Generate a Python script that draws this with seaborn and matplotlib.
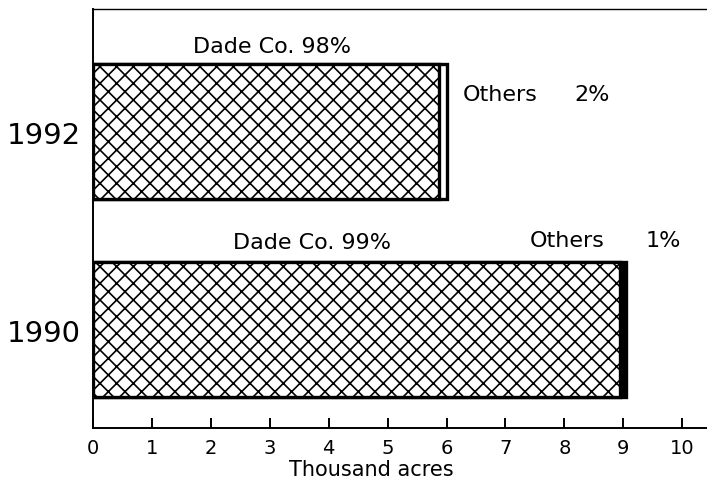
import matplotlib
matplotlib.use("Agg")
import matplotlib.pyplot as plt
import seaborn as sns
import pandas as pd

years = ["1992", "1990"]
dade = [5.88, 8.95]
others = [0.12, 0.10]
dade_pct = ["Dade Co. 98%", "Dade Co. 99%"]
others_pct = ["2%", "1%"]
xticks = list(range(0, 11))

total = [d + o for d, o in zip(dade, others)]
df = pd.DataFrame({"year": years, "dade": dade, "total": total})

sns.set_style("white")
plt.rcParams["font.family"] = ["DejaVu Sans"]
plt.rcParams["hatch.linewidth"] = 1.2
plt.rcParams["text.color"] = "black"
plt.rcParams["xtick.color"] = "black"
plt.rcParams["ytick.color"] = "black"
plt.rcParams["axes.labelcolor"] = "black"

fig = plt.figure(figsize=(7.07, 4.89), dpi=100)
ax = fig.add_axes([93/707, 1 - 429/489, 1 - 93/707, (429 - 10)/489])

sns.barplot(data=df, x="total", y="year", order=years, orient="h", width=0.68,
            color="white", edgecolor="black", linewidth=2.4, ax=ax, saturation=1)
sns.barplot(data=df, x="dade", y="year", order=years, orient="h", width=0.68,
            color="white", edgecolor="black", linewidth=2.4, ax=ax, saturation=1)
for p in ax.patches[len(years):]:
    p.set_hatch("xx")

# Others segments
ax.patches[0].set_facecolor("white")
ax.patches[1].set_facecolor("black")

ax.set_xlim(0, 10.42)
ax.set_ylim(1.497, -0.619)
ax.set_xticks(xticks)
ax.set_xticklabels([str(t) for t in xticks])
ax.tick_params(axis="x", bottom=True, direction="in", length=7, width=1.4,
               pad=7, labelsize=14)
ax.tick_params(axis="y", left=False, length=0, labelsize=21, pad=9)
ax.set_xlabel("Thousand acres", fontsize=15)
ax.xaxis.set_label_coords((371 - 93) / 614, -0.075)
ax.set_ylabel("")

for s in ["left", "bottom", "top"]:
    ax.spines[s].set_visible(True)
    ax.spines[s].set_color("black")
ax.spines["left"].set_linewidth(1.4)
ax.spines["bottom"].set_linewidth(1.4)
ax.spines["top"].set_linewidth(1.0)
ax.spines["right"].set_visible(False)

# annotations
ax.text(3.04, -0.43, dade_pct[0], ha="center", va="center", fontsize=16)
ax.text(6.27, -0.19, "Others", ha="left", va="center", fontsize=16)
ax.text(8.17, -0.19, others_pct[0], ha="left", va="center", fontsize=16)
ax.text(3.72, 0.56, dade_pct[1], ha="center", va="center", fontsize=16)
ax.text(7.42, 0.55, "Others", ha="left", va="center", fontsize=16)
ax.text(9.37, 0.55, others_pct[1], ha="left", va="center", fontsize=16)

fig.savefig("out.png", dpi=100)
